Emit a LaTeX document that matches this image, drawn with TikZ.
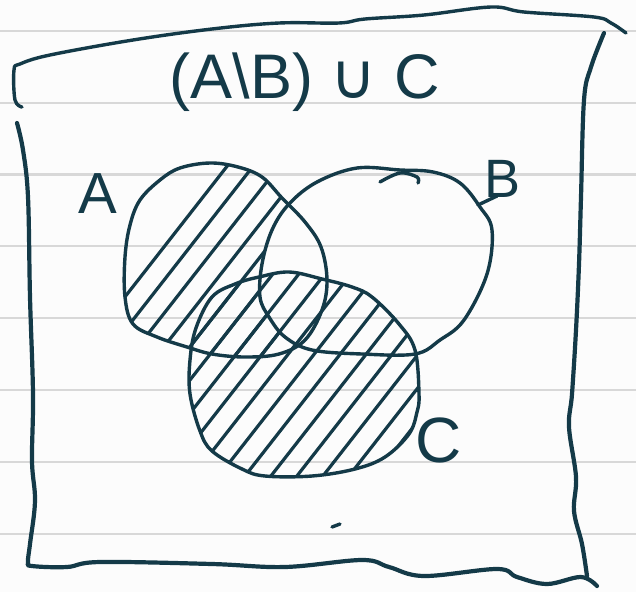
\documentclass[tikz,border=0pt]{standalone}
\usepackage{fontspec}
\setmainfont{Liberation Sans}
\newfontfamily\symfont{DejaVu Sans}
\definecolor{ink}{RGB}{20,58,72}
\definecolor{paper}{RGB}{252,252,252}
\definecolor{rulegray}{RGB}{216,216,216}
\newcommand\blobA{plot[smooth cycle,tension=0.6] coordinates {(125,257) (130,225) (140,200) (160,180) (180,168) (210,163) (238,167) (262,177) (282,198) (305,222) (321,247) (327,280) (322,310) (305,340) (279,354) (245,357) (212,354) (187,347) (157,337) (133,324) (125,297)}}
\newcommand\blobB{plot[smooth cycle,tension=0.6] coordinates {(357,168) (317,182) (289,204) (272,230) (262,264) (260,297) (269,317) (285,337) (312,350) (362,354) (415,354) (440,340) (464,320) (487,274) (492,230) (480,207) (460,183) (433,172) (400,170)}}
\newcommand\blobC{plot[smooth cycle,tension=0.6] coordinates {(190,394) (190,360) (196,328) (212,297) (235,284) (259,277) (289,272) (322,279) (352,287) (372,297) (399,324) (415,350) (419,394) (417,412) (409,434) (385,457) (355,469) (312,476) (265,476) (242,469) (212,451) (200,431)}}
\begin{document}
\begin{tikzpicture}[x=1pt,y=-1pt,
  inkline/.style={draw=ink,line width=3.4pt,line cap=round,line join=round},
  hatchline/.style={draw=ink,line width=3.2pt,line cap=round},
  lbl/.style={text=ink,inner sep=0pt}]
\fill[paper] (0,0) rectangle (636,592);
\useasboundingbox (0,0) rectangle (636,592);
\foreach \y in {31,103,174.5,246,318,390,462,534} \draw[rulegray,line width=2.4pt] (0,\y) -- (636,\y);
% frame
\draw[inkline,line width=3.4pt] plot[smooth,tension=0.6] coordinates {(22,107) (15,100) (14,70) (20,64) (50,55) (133,40) (212,29) (279,23) (339,23) (365,19) (424,15) (491,7) (524,12) (594,17) (611,23) (626,33)};
\draw[inkline,line width=4.2pt] plot[smooth,tension=0.6] coordinates {(17,123) (23,150) (28,197) (30,297) (33,394) (32,461) (35,501) (30,544) (28,562) (32,566) (67,567) (100,562) (212,564) (285,567) (362,560) (389,567) (424,576) (497,569) (517,577) (547,584) (581,577) (597,586)};
\draw[inkline,line width=4.2pt] plot[smooth,tension=0.6] coordinates {(604,33) (591,67) (584,100) (581,197) (579,264) (576,330) (572,394) (569,427) (576,477) (574,511) (582,544) (587,576)};
% hatching: C
\begin{scope}
\clip \blobC;
\foreach \x in {-112,-86,...,320} \draw[hatchline] (\x,600) -- ({\x+469},0);
\end{scope}
% hatching: A minus B
\begin{scope}
\clip \blobA;
\begin{scope}[even odd rule]
\clip (0,0) rectangle (636,592) \blobB;
\foreach \x in {-112,-86,...,320} \draw[hatchline] (\x,600) -- ({\x+469},0);
\end{scope}
\end{scope}
% sets
\draw[inkline] \blobA;
\draw[inkline] \blobB;
\draw[inkline] \blobC;
\draw[inkline] plot[smooth,tension=0.6] coordinates {(380,182) (400,173) (417,177) (418,183)};
\draw[inkline] (478,205) -- (497,196);
\draw[inkline] (332,527) -- (340,524);
% labels
\node[lbl,font=\fontsize{63}{70}\selectfont,anchor=base] (title) at (305,98) {(A\textbackslash B) {\symfont ∪} C};
\node[lbl,font=\fontsize{58}{60}\selectfont,anchor=base] (labA) at (98,213) {A};
\node[lbl,font=\fontsize{54}{60}\selectfont,anchor=base] (labB) at (502,197) {B};
\node[lbl,font=\fontsize{64}{70}\selectfont,anchor=base] (labC) at (439,462) {C};
\end{tikzpicture}
\end{document}
